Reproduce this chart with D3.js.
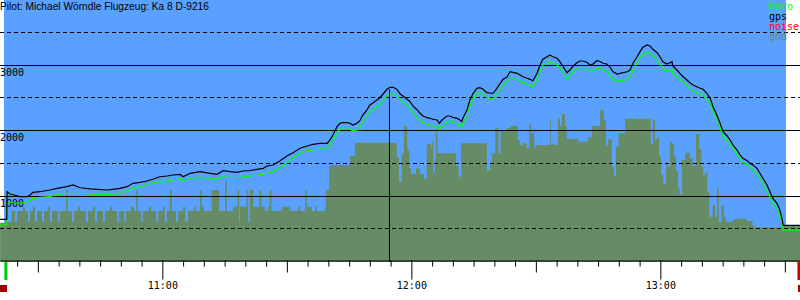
<!DOCTYPE html>
<html>
<head>
    <script src="https://d3js.org/d3.v7.min.js"></script>
    <title>Flight barogram</title>
    <style>
        body { margin: 0; background: #fff; }
        svg { display: block; }
    </style>
</head>
<body>
    <svg id="plot" width="800" height="300"></svg>
    <script>
        // times are minutes after 10:00, altitudes in metres
        const title = 'Pilot: Michael W\u00f6rndle Flugzeug: Ka 8 D-9216';
        const seriesNames = ['baro', 'gps', 'noise', 'gnd'];
        const altLabels = [1000, 2000, 3000];
        const altSolid = [1000, 2000, 3000];
        const altDashed = [500, 1500, 2500, 3500];
        const hourLabels = ['11:00', '12:00', '13:00'];

        const viewStart = 20.88, viewEnd = 213.65;
        const takeoffTime = 22.3, landingTime = 213.4;
        const cursorTime = 114.5;

        const trackTime = [20.9, 22.5, 22.6, 23.3, 24.3, 25.7, 27.4, 28.1, 28.8, 30.5, 32.9, 34.6, 37.0, 38.5, 40.2, 42.6, 44.3, 46.7, 48.1, 49.8,
            51.5, 52.9, 54.6, 56.3, 57.7, 59.4, 61.1, 62.6, 64.3, 65.0, 66.7, 69.1, 71.5, 73.2, 74.6, 76.3, 78.0, 79.4, 81.1, 82.8,
            84.3, 85.2, 86.7, 88.3, 90.0, 91.5, 93.2, 94.9, 96.3, 98.0, 99.7, 100.4, 101.1, 102.1, 102.8, 103.5, 104.5, 105.2, 105.9, 106.9,
            107.6, 108.3, 109.3, 110.0, 110.8, 111.7, 112.4, 113.2, 114.1, 114.9, 115.6, 116.5, 117.3, 118.0, 119.0, 119.7, 120.4, 121.4, 122.1, 122.8,
            123.8, 124.5, 125.2, 126.2, 126.7, 127.4, 128.6, 129.3, 130.0, 131.0, 131.7, 132.2, 132.4, 133.4, 134.1, 134.9, 135.8, 136.5, 137.3, 138.2,
            139.0, 139.7, 140.6, 141.4, 142.1, 143.0, 143.8, 144.5, 145.5, 146.2, 146.9, 147.9, 148.6, 149.3, 150.3, 151.0, 151.7, 152.7, 153.4, 154.1,
            155.1, 155.8, 156.5, 157.5, 158.2, 159.0, 159.9, 160.6, 161.4, 162.3, 163.0, 163.8, 164.7, 165.5, 166.2, 167.1, 167.9, 168.6, 169.6, 170.3,
            171.0, 172.0, 172.7, 173.4, 174.4, 175.1, 175.8, 176.8, 177.5, 178.2, 179.2, 179.9, 180.6, 181.6, 182.3, 182.8, 183.0, 184.0, 184.7, 185.5,
            186.4, 187.1, 187.9, 188.8, 189.6, 190.3, 191.2, 192.0, 192.7, 193.6, 194.4, 195.1, 196.1, 196.8, 197.5, 198.5, 199.2, 199.9, 200.9, 201.6,
            202.3, 203.3, 204.0, 204.7, 205.7, 206.4, 207.1, 208.1, 208.8, 209.3, 209.6, 213.6];

        const gpsAlt = [650, 650, 1073, 1038, 1023, 997, 997, 1023, 1064, 1073, 1099, 1125, 1150, 1176, 1134, 1115, 1110, 1099, 1110, 1125,
            1150, 1201, 1217, 1237, 1263, 1302, 1313, 1328, 1339, 1302, 1354, 1379, 1354, 1339, 1394, 1379, 1369, 1389, 1394, 1415,
            1430, 1466, 1481, 1542, 1618, 1669, 1736, 1771, 1797, 1812, 1812, 1863, 1939, 2066, 2118, 2127, 2127, 2118, 2092, 2118,
            2157, 2244, 2321, 2397, 2432, 2473, 2508, 2565, 2637, 2667, 2667, 2637, 2565, 2534, 2484, 2447, 2382, 2321, 2270, 2229,
            2203, 2194, 2179, 2168, 2118, 2168, 2229, 2229, 2209, 2194, 2168, 2142, 2194, 2321, 2473, 2576, 2652, 2661, 2637, 2585,
            2576, 2576, 2652, 2728, 2789, 2820, 2905, 2896, 2881, 2855, 2829, 2805, 2789, 2768, 2881, 3008, 3095, 3134, 3160, 3134,
            3110, 3058, 2992, 2890, 2931, 2992, 3043, 3069, 3069, 3049, 3008, 3023, 3073, 3061, 3034, 3023, 2973, 2905, 2870, 2881,
            2890, 2905, 2931, 3034, 3134, 3211, 3278, 3313, 3298, 3247, 3195, 3134, 3058, 3023, 3043, 3058, 2992, 2931, 2881, 2829,
            2779, 2737, 2702, 2676, 2652, 2637, 2576, 2499, 2371, 2244, 2118, 1989, 1924, 1863, 1786, 1710, 1634, 1583, 1547, 1507,
            1481, 1430, 1354, 1278, 1176, 1073, 972, 896, 794, 667, 560, 560];

        const baroAlt = [565, 565, 901, 916, 905, 896, 921, 940, 972, 988, 997, 1034, 1049, 1049, 1049, 1040, 1023, 1034, 1034, 1049,
            1089, 1125, 1150, 1176, 1217, 1226, 1237, 1252, 1278, 1241, 1278, 1298, 1278, 1263, 1302, 1287, 1290, 1295, 1313, 1328,
            1343, 1355, 1380, 1440, 1520, 1590, 1660, 1695, 1710, 1721, 1736, 1786, 1863, 1974, 2041, 2056, 2050, 2026, 2005, 2015,
            2066, 2142, 2229, 2295, 2336, 2371, 2408, 2463, 2534, 2565, 2565, 2550, 2478, 2443, 2397, 2346, 2280, 2209, 2157, 2127,
            2107, 2092, 2076, 2066, 2031, 2076, 2142, 2153, 2127, 2107, 2092, 2056, 2107, 2229, 2382, 2499, 2576, 2591, 2560, 2514,
            2489, 2489, 2550, 2637, 2713, 2737, 2805, 2805, 2789, 2768, 2743, 2718, 2702, 2667, 2789, 2921, 3008, 3043, 3058, 3043,
            3008, 2966, 2905, 2789, 2840, 2905, 2957, 2973, 2973, 2957, 2905, 2921, 2957, 2970, 2931, 2905, 2855, 2789, 2753, 2768,
            2768, 2789, 2829, 2931, 3043, 3125, 3176, 3211, 3186, 3145, 3095, 3023, 2957, 2905, 2921, 2942, 2881, 2829, 2789, 2753,
            2702, 2652, 2615, 2585, 2565, 2550, 2499, 2423, 2310, 2194, 2056, 1924, 1863, 1802, 1736, 1659, 1583, 1516, 1481, 1446,
            1405, 1354, 1278, 1201, 1073, 997, 905, 820, 718, 615, 489, 489];

        const gndTime = [20.9, 22.6, 23.7, 24.5, 25.0, 26.4, 26.9, 27.6, 28.1, 28.8, 29.3, 29.8, 31.0, 31.5, 32.4, 32.9, 33.4, 34.9, 35.3, 36.8,
            37.2, 38.2, 38.7, 39.7, 40.2, 41.6, 42.1, 43.3, 43.8, 44.3, 45.7, 46.2, 47.4, 47.9, 49.1, 49.6, 50.8, 51.2, 52.4, 53.2,
            53.7, 54.1, 54.9, 55.3, 56.8, 57.3, 58.5, 59.0, 60.2, 60.6, 61.1, 61.8, 62.3, 63.3, 63.8, 65.0, 65.5, 66.2, 67.6, 68.1,
            69.1, 69.5, 70.0, 71.9, 73.7, 75.1, 75.5, 77.1, 78.1, 78.5, 78.7, 80.3, 80.7, 81.1, 81.9, 83.4, 83.9, 84.7, 85.5, 85.9,
            86.3, 88.8, 90.8, 92.7, 93.2, 94.4, 94.8, 96.0, 96.8, 97.2, 99.2, 99.4, 100.2, 105.2, 106.4, 116.5, 117.0, 117.7, 118.2, 119.0,
            119.5, 119.9, 121.1, 122.1, 123.0, 123.7, 124.7, 125.0, 125.3, 125.7, 125.9, 126.3, 130.8, 131.4, 132.0, 138.2, 139.0, 139.4, 140.2, 141.0,
            141.5, 142.3, 142.8, 143.8, 145.7, 146.2, 146.8, 147.8, 148.4, 148.9, 149.6, 149.9, 153.4, 153.6, 154.6, 155.3, 155.8, 156.3, 157.0, 157.4,
            160.2, 162.6, 163.5, 165.5, 166.4, 166.9, 167.4, 168.3, 168.8, 169.3, 169.9, 171.5, 177.7, 178.2, 178.7, 179.3, 179.7, 180.2, 180.7, 181.4,
            181.8, 182.3, 182.8, 183.3, 183.8, 184.3, 184.7, 185.2, 186.0, 187.1, 187.8, 188.6, 189.4, 189.9, 190.3, 191.0, 191.3, 191.8, 192.6, 193.2,
            193.7, 194.1, 194.7, 195.3, 195.8, 197.6, 198.2, 200.8, 202.2, 202.8, 204.0, 209.6, 213.7];

        const gndAlt = [600, 615, 779, 615, 779, 844, 779, 615, 779, 844, 615, 779, 615, 779, 844, 615, 779, 615, 779, 1099,
            779, 615, 779, 844, 779, 615, 779, 844, 615, 779, 615, 779, 844, 779, 615, 779, 615, 779, 844, 779,
            1099, 779, 615, 779, 844, 779, 615, 779, 844, 615, 779, 1099, 779, 615, 779, 844, 615, 779, 844, 779,
            1099, 844, 779, 1099, 779, 1237, 779, 844, 1099, 615, 844, 1099, 615, 1099, 844, 1099, 844, 779, 844, 1099,
            779, 844, 779, 844, 779, 1099, 844, 779, 844, 779, 844, 1099, 1481, 1618, 1821, 1598, 1226, 1659, 2076, 1710,
            1430, 1343, 1430, 1343, 1272, 1802, 1761, 1837, 1354, 1568, 2026, 1659, 1466, 1302, 1812, 1394, 1481, 1659, 2046, 1659,
            2015, 1989, 2041, 2076, 1863, 1786, 1812, 1736, 2112, 1965, 1736, 1786, 2173, 1797, 1786, 2188, 2076, 2260, 2076, 1878,
            1837, 1904, 2076, 2321, 2168, 1786, 1873, 1455, 1313, 1761, 1965, 2188, 1802, 2173, 1873, 1913, 1608, 1328, 1191, 1532,
            1450, 1837, 1802, 1608, 1394, 1124, 1023, 1557, 1669, 1583, 1466, 1954, 1720, 1455, 1328, 1379, 1073, 690, 870, 690,
            1124, 615, 870, 690, 615, 650, 660, 625, 550, 530, 525, 565, 565];

        const svg = d3.select('svg#plot');
        const width = +svg.attr('width');
        const height = +svg.attr('height');

        const plotBottom = 262;
        const colors = {baro: '#00ff00', gps: '#000000', noise: '#ff0000', gnd: '#668c66'};
        const monoFont = '"DejaVu Sans Mono", monospace';

        const base = new Date(2000, 0, 1, 10, 0, 0);
        const toDate = m => new Date(base.getTime() + m * 60000);

        const x = d3.scaleTime().domain([toDate(viewStart), toDate(viewEnd)]).range([0, width]);
        const y = d3.scaleLinear().domain([0, 4000]).range([plotBottom, 0]);

        const track = trackTime.map((t, i) => ({t: toDate(t), gps: gpsAlt[i], baro: baroAlt[i]}));
        const gnd = gndTime.map((t, i) => ({t: toDate(t), alt: gndAlt[i]}));

        // sky
        svg.append('rect')
            .attr('x', 4).attr('y', 0)
            .attr('width', 782).attr('height', plotBottom - 1)
            .attr('fill', '#5aa0ff');

        // ground
        svg.append('path')
            .datum(gnd)
            .attr('fill', colors.gnd)
            .attr('d', d3.area().curve(d3.curveStepAfter)
                .x(d => x(d.t)).y0(y(0)).y1(d => y(d.alt)));

        // grid
        svg.selectAll('line.solid').data(altSolid).join('line')
            .attr('class', 'solid')
            .attr('x1', 0).attr('x2', width)
            .attr('y1', d => Math.round(y(d)) - 0.5).attr('y2', d => Math.round(y(d)) - 0.5)
            .attr('stroke', '#000').attr('stroke-width', 1);

        svg.selectAll('line.dash').data(altDashed).join('line')
            .attr('class', 'dash')
            .attr('x1', 0).attr('x2', width)
            .attr('y1', d => Math.round(y(d)) - 0.5).attr('y2', d => Math.round(y(d)) - 0.5)
            .attr('stroke', '#000').attr('stroke-width', 1)
            .attr('stroke-dasharray', '4,3');

        svg.selectAll('text.alt').data(altLabels).join('text')
            .attr('class', 'alt')
            .attr('x', 0)
            .attr('y', d => y(d) + 10)
            .attr('font-family', monoFont)
            .attr('font-size', '10px')
            .text(d => d);

        // barograph lines
        svg.append('path')
            .datum(track)
            .attr('fill', 'none')
            .attr('stroke', colors.baro)
            .attr('stroke-width', 1.2)
            .attr('d', d3.line().x(d => x(d.t)).y(d => y(d.baro)));

        svg.append('path')
            .datum(track)
            .attr('fill', 'none')
            .attr('stroke', colors.gps)
            .attr('stroke-width', 1.2)
            .attr('d', d3.line().x(d => x(d.t)).y(d => y(d.gps)));

        // cursor
        const cursorPt = d3.least(track, d => Math.abs(d.t - toDate(cursorTime)));
        svg.append('line')
            .attr('x1', Math.round(x(toDate(cursorTime))) + 0.5)
            .attr('x2', Math.round(x(toDate(cursorTime))) + 0.5)
            .attr('y1', y(cursorPt.gps)).attr('y2', y(0))
            .attr('stroke', '#000');

        // time axis
        const axis = d3.axisBottom(x)
            .ticks(d3.timeMinute.every(5))
            .tickSizeOuter(0)
            .tickFormat(d => d.getMinutes() === 0 ? d3.timeFormat('%H:%M')(d) : '');

        const axisG = svg.append('g')
            .attr('transform', `translate(0,${plotBottom - 1.5})`)
            .call(axis);

        axisG.select('.domain').attr('stroke', '#000');
        axisG.selectAll('.tick line')
            .attr('stroke', '#000')
            .attr('y2', d => d.getMinutes() === 0 ? 19 : (d.getMinutes() === 30 ? 12 : 6));
        axisG.selectAll('.tick text')
            .attr('y', 28).attr('dy', 0)
            .attr('font-family', monoFont)
            .attr('font-size', '10px')
            .attr('fill', '#000')
            .filter(d => !hourLabels.includes(d3.timeFormat('%H:%M')(d)))
            .remove();

        // takeoff / landing markers
        svg.append('rect')
            .attr('x', x(toDate(takeoffTime)) - 1.5).attr('y', plotBottom)
            .attr('width', 3).attr('height', 18)
            .attr('fill', '#00cc00');
        svg.append('rect')
            .attr('x', x(toDate(landingTime)) - 1.5).attr('y', plotBottom)
            .attr('width', 3).attr('height', 18)
            .attr('fill', '#cc0000');
        svg.append('rect')
            .attr('x', x(toDate(viewStart))).attr('y', 285)
            .attr('width', 7).attr('height', 7)
            .attr('fill', '#a00000');
        svg.append('rect')
            .attr('x', x(toDate(viewEnd)) - 2).attr('y', 285)
            .attr('width', 7).attr('height', 7)
            .attr('fill', '#a00000');

        // legend
        svg.selectAll('text.legend').data(seriesNames).join('text')
            .attr('class', 'legend')
            .attr('x', 769)
            .attr('y', (d, i) => 9.5 + i * 10)
            .attr('font-family', monoFont)
            .attr('font-size', '10px')
            .attr('fill', d => colors[d])
            .text(d => d);

        // title
        svg.append('text')
            .attr('x', 0).attr('y', 9.5)
            .attr('font-family', '"Liberation Sans", Arial, sans-serif')
            .attr('font-size', '10.2px')
            .attr('fill', '#000')
            .text(title);
    </script>
</body>
</html>
